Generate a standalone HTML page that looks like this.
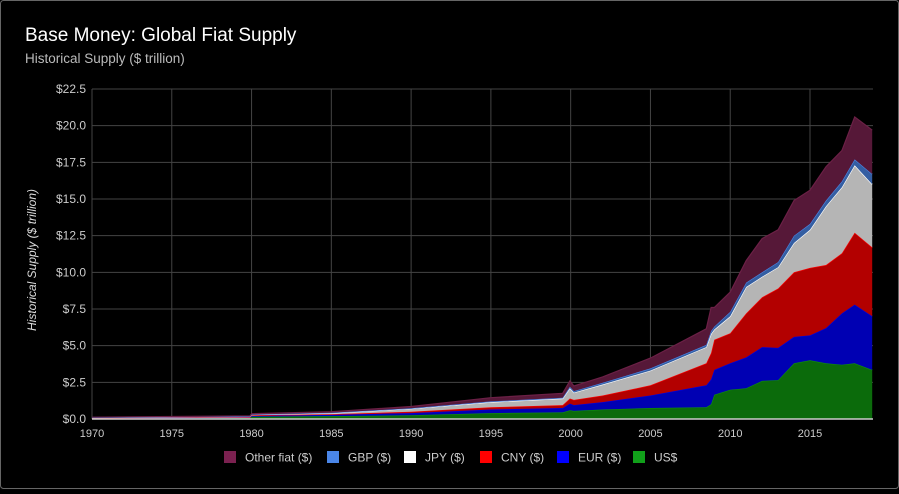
<!DOCTYPE html>
<html><head><meta charset="utf-8"><style>
body{margin:0;background:#000;}
#wrap{position:relative;width:899px;height:489px;background:#000;font-family:"Liberation Sans",sans-serif;}
</style></head><body>
<div id="wrap">
<svg id="chart" width="899" height="489" xmlns="http://www.w3.org/2000/svg">
<rect x="0.5" y="0.5" width="898" height="488" rx="3" fill="#000" stroke="#666"/>
<text x="25" y="41" fill="#fff" font-size="19">Base Money: Global Fiat Supply</text>
<text x="25" y="63" fill="#bbb" font-size="13.5">Historical Supply ($ trillion)</text>
<text transform="translate(36,260) rotate(-90)" text-anchor="middle" fill="#ddd" font-size="12" font-style="italic">Historical Supply ($ trillion)</text>
<g id="grid"></g><g id="areas"></g><g id="axes"></g><g id="legend"></g>
</svg>
</div>
<script>
const years = [1970,1979.9,1980,1985,1990,1995,1999.5,1999.95,2000.2,2002,2005,2008.5,2008.8,2009,2010,2011,2012,2013,2014,2015,2016,2017,2017.8,2018.9];
const usd   = [0.04,0.07,0.15,0.2,0.25,0.4,0.45,0.6,0.55,0.65,0.75,0.8,1.0,1.65,2.0,2.1,2.6,2.65,3.8,4.0,3.8,3.7,3.8,3.35];
const eur   = [0.02,0.04,0.06,0.08,0.15,0.25,0.3,0.45,0.4,0.5,0.85,1.5,1.7,1.7,1.8,2.1,2.3,2.2,1.8,1.7,2.4,3.5,4.0,3.65];
const cny   = [0.01,0.02,0.04,0.05,0.1,0.15,0.2,0.35,0.35,0.45,0.7,1.5,1.8,2.05,2.05,3.0,3.4,4.05,4.4,4.6,4.3,4.1,4.9,4.7];
const jpy   = [0.02,0.04,0.05,0.08,0.2,0.35,0.45,0.7,0.5,0.75,1.0,1.1,1.3,0.7,1.15,1.8,1.4,1.45,2.0,2.6,4.0,4.5,4.6,4.3];
const gbp   = [0.01,0.01,0.01,0.02,0.03,0.05,0.05,0.1,0.1,0.12,0.15,0.15,0.2,0.2,0.3,0.3,0.3,0.35,0.5,0.4,0.4,0.4,0.4,0.7];
const other = [0.02,0.04,0.05,0.07,0.12,0.25,0.3,0.4,0.35,0.4,0.7,1.1,1.6,1.3,1.35,1.5,2.3,2.2,2.4,2.3,2.3,2.1,2.9,3.0];
const yTicks = ["$0.0","$2.5","$5.0","$7.5","$10.0","$12.5","$15.0","$17.5","$20.0","$22.5"];
const yTickVals = [0,2.5,5,7.5,10,12.5,15,17.5,20,22.5];
const xTicks = [1970,1975,1980,1985,1990,1995,2000,2005,2010,2015];
const seriesNames = ["US$","EUR ($)","CNY ($)","JPY ($)","GBP ($)","Other fiat ($)"];

const NS="http://www.w3.org/2000/svg";
const X0=92,X1=873,Y0=419,Y1=89;
const xs = y => X0 + (y-1970)*(810-92)/45;
const ys = v => Y0 - v*(Y0-Y1)/22.5;
function mk(tag,attrs,parent){const e=document.createElementNS(NS,tag);for(const k in attrs)e.setAttribute(k,attrs[k]);parent.appendChild(e);return e;}
const grid=document.getElementById('grid'),areas=document.getElementById('areas'),axes=document.getElementById('axes'),legend=document.getElementById('legend');
yTickVals.forEach((v,i)=>{
  const l=mk('line',{x1:X0,x2:X1,y1:ys(v),y2:ys(v),stroke:'#444','stroke-width':1},grid);
  
  
  const t=mk('text',{x:86,y:ys(v)+4,'text-anchor':'end',fill:'#ccc','font-size':12},axes);
  t.textContent=yTicks[i];
  
  
});
xTicks.forEach(yr=>{
  const l=mk('line',{x1:xs(yr),x2:xs(yr),y1:Y1,y2:Y0,stroke:'#444','stroke-width':1},grid);
  
  
  const t=mk('text',{x:xs(yr),y:437,'text-anchor':'middle',fill:'#ccc','font-size':11},axes);
  t.textContent=yr;
  
  
});
const series=[usd,eur,cny,jpy,gbp,other];
const fills=['#0b6b0b','#0000b3','#b30000','#b5b5b5','#345ea2','#561838'];
const strokes=['#0f8f0f','#0000e0','#ff0000','#ffffff','#4a86e8','#6b2046'];
const names=['area-usd','area-eur','area-cny','area-jpy','area-gbp','area-other'];
let base=years.map(()=>0);
series.forEach((s,k)=>{
  const top=base.map((b,i)=>b+s[i]);
  let d='M'+years.map((y,i)=>xs(y).toFixed(1)+','+ys(top[i]).toFixed(1)).join('L');
  for(let i=years.length-1;i>=0;i--) d+='L'+xs(years[i]).toFixed(1)+','+ys(base[i]).toFixed(1);
  d+='Z';
  const p=mk('path',{d:d,fill:fills[k]},areas);
  
  
  const ln=mk('path',{d:'M'+years.map((y,i)=>xs(y).toFixed(1)+','+ys(top[i]).toFixed(1)).join('L'),fill:'none',stroke:strokes[k],'stroke-width':1.2},areas);
  
  
  base=top;
});
const bl=mk('line',{x1:X0,x2:X1,y1:Y0,y2:Y0,stroke:'#ccc','stroke-width':1.5},axes);


const legItems=[["Other fiat ($)",'#7b2150',224],["GBP ($)",'#4a86e8',327],["JPY ($)",'#ffffff',404],["CNY ($)",'#ff0000',480],["EUR ($)",'#0000ff',557],["US$",'#11a01a',633]];
legItems.forEach(it=>{
  const r=mk('rect',{x:it[2],y:451,width:12,height:12,fill:it[1]},legend);
  
  
  const t=mk('text',{x:it[2]+21,y:461.5,fill:'#ccc','font-size':12},legend);
  t.textContent=it[0];
  
  
});
</script>
</body></html>
